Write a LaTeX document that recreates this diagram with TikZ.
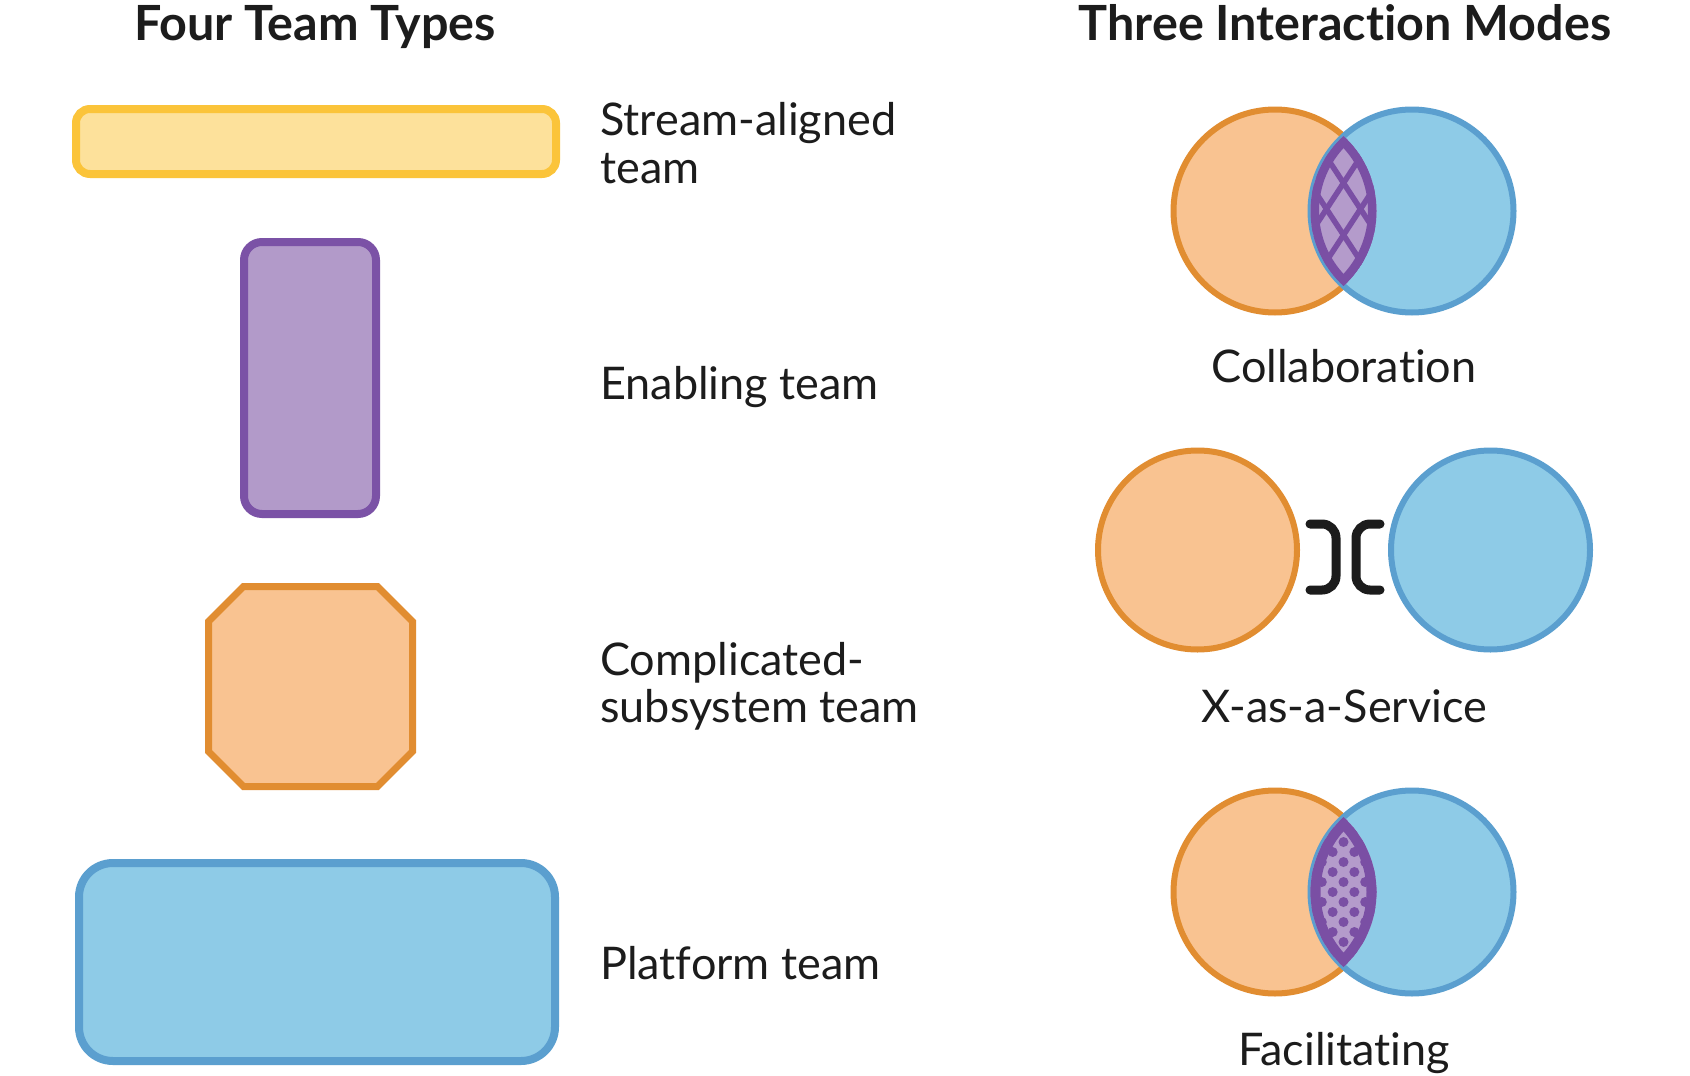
\documentclass[tikz,border=0pt]{standalone}
\usepackage{fontspec}
\setmainfont{Lato}[Ligatures=NoCommon]
\definecolor{ylwS}{HTML}{FBC43A}
\definecolor{ylwF}{HTML}{FDE19B}
\definecolor{purS}{HTML}{7B52A6}
\definecolor{purF}{HTML}{B29AC9}
\definecolor{orgS}{HTML}{E18D31}
\definecolor{orgF}{HTML}{F9C391}
\definecolor{bluS}{HTML}{5B9FCF}
\definecolor{bluF}{HTML}{8ECBE7}
\definecolor{lensD}{HTML}{7A4FA4}
\definecolor{lensL}{HTML}{B49BCB}
\definecolor{txt}{HTML}{1C1C1C}
\begin{document}
\begin{tikzpicture}[x=1pt,y=-1pt,
  title/.style={font=\fontsize{48.5}{52}\selectfont\bfseries, text=txt, inner sep=0pt, anchor=base},
  lbl/.style={font=\fontsize{45}{49}\selectfont, text=txt, inner sep=0pt, anchor=base west},
  mode/.style={font=\fontsize{45}{49}\selectfont, text=txt, inner sep=0pt, anchor=base},
  box/.style={line width=8pt, inner sep=0pt},
  circ/.style={circle, line width=6pt, inner sep=0pt},
  hatch/.style={line width=5.5pt, lensD},
  dot/.style={fill=lensD},
  bracket/.style={line width=9pt, line cap=round, rounded corners=14pt, txt}
]
\useasboundingbox (0,0) rectangle (1690,1076);
\fill[white] (0,0) rectangle (1690,1076);

% titles
\node[title] (t1) at (315,40) {Four Team Types};
\node[title] (t2) at (1345,40) {Three Interaction Modes};

% team shapes
\node[box, draw=ylwS, fill=ylwF, rounded corners=14pt, minimum width=480pt, minimum height=65pt] (stream) at (316,141.5) {};
\node[box, draw=purS, fill=purF, rounded corners=18pt, minimum width=132pt, minimum height=272pt] (enabling) at (310,378) {};
\draw[box, line width=7pt, draw=orgS, fill=orgF] (243.5,586.5) -- (377.5,586.5) -- (412.5,621.5) -- (412.5,751.5) -- (377.5,786.5) -- (243.5,786.5) -- (208.5,751.5) -- (208.5,621.5) -- cycle;
\coordinate (complicated) at (310.5,686.5);
\node[box, draw=bluS, fill=bluF, rounded corners=34pt, minimum width=476pt, minimum height=198pt] (platform) at (317,962) {};

% labels
\node[lbl] (l1a) at (600,135) {Stream-aligned};
\node[lbl] (l1b) at (600,183) {team};
\node[lbl] (l2) at (600,399) {Enabling team};
\node[lbl] (l3a) at (600,675) {Complicated-};
\node[lbl] (l3b) at (600,722) {subsystem team};
\node[lbl] (l4) at (600,979) {Platform team};

% collaboration
\node[circ, draw=orgS, fill=orgF, minimum size=203pt] (co) at (1275,211) {};
\node[circ, draw=bluS, fill=bluF, minimum size=203pt] (cb) at (1412,211) {};
\begin{scope}
  \clip (1275,211) circle[radius=101.5];
  \clip (1412,211) circle[radius=101.5];
  \fill[lensL] (1300,100) rectangle (1390,320);
  \foreach \k in {-4.5,-3.5,...,4.5}{
    \draw[hatch] ({1343.5-17*\k-68},{209-26*\k+104}) -- ({1343.5-17*\k+68},{209-26*\k-104});
    \draw[hatch] ({1343.5+17*\k+68},{209-26*\k+104}) -- ({1343.5+17*\k-68},{209-26*\k-104});
  }
  \draw[line width=17pt, lensD] (1275,211) circle[radius=101.5] (1412,211) circle[radius=101.5];
\end{scope}
\node[mode] (m1) at (1344,382) {Collaboration};

% x-as-a-service
\node[circ, draw=orgS, fill=orgF, minimum size=199pt] (xo) at (1197.5,550) {};
\node[circ, draw=bluS, fill=bluF, minimum size=199pt] (xb) at (1490.5,550) {};
\draw[bracket] (1310,524) -- (1336,524) -- (1336,590) -- (1310,590);
\draw[bracket] (1380,524) -- (1356,524) -- (1356,590) -- (1380,590);
\node[mode] (m2) at (1344,722) {X-as-a-Service};

% facilitating
\node[circ, draw=orgS, fill=orgF, minimum size=203pt] (fo) at (1275,892) {};
\node[circ, draw=bluS, fill=bluF, minimum size=203pt] (fb) at (1412,892) {};
\begin{scope}
  \clip (1275,892) circle[radius=101.5];
  \clip (1412,892) circle[radius=101.5];
  \fill[lensL] (1300,780) rectangle (1390,1000);
  \foreach \j in {-8,-6,...,8}{
    \foreach \m in {-5,-3,...,5}{
      \fill[dot] ({1343.5+10.85*\m},{892+10*\j}) circle[radius=5];
    }
  }
  \foreach \j in {-9,-7,...,9}{
    \foreach \m in {-6,-4,...,6}{
      \fill[dot] ({1343.5+10.85*\m},{892+10*\j}) circle[radius=5];
    }
  }
  \draw[line width=20pt, lensD] (1275,892) circle[radius=101.5] (1412,892) circle[radius=101.5];
\end{scope}
\node[mode] (m3) at (1344,1065) {Facilitating};
\end{tikzpicture}
\end{document}
